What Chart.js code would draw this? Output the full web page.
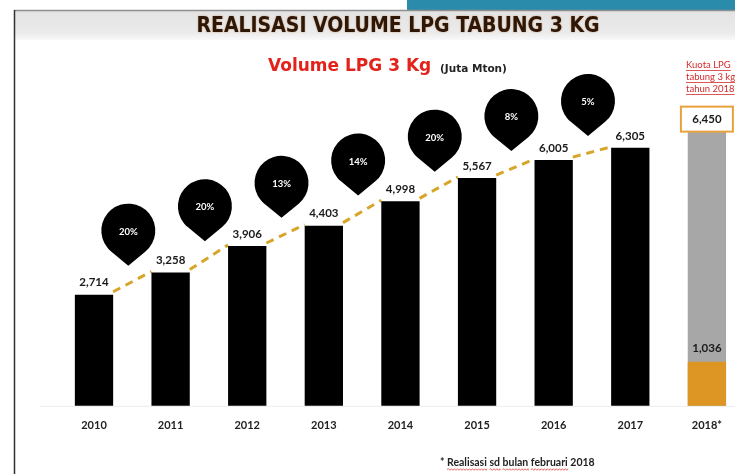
<!DOCTYPE html>
<html>
<head>
<meta charset="utf-8">
<script src="https://cdn.jsdelivr.net/npm/chart.js@4/dist/chart.umd.min.js"></script>
<style>
html,body{margin:0;padding:0;background:#fff;overflow:hidden;}
canvas{display:block;}
</style>
</head>
<body>
<canvas id="c" width="735" height="474"></canvas>
<script>
// ---- data ----
const categories = ['2010', '2011', '2012', '2013', '2014', '2015', '2016', '2017', '2018*'];
const volumes = [2714, 3258, 3906, 4403, 4998, 5567, 6005, 6305, null];
const realisasi2018 = [null, null, null, null, null, null, null, null, 1036];
const kuota2018 = [null, null, null, null, null, null, null, null, 6450];
const growthLabels = ['20%', '20%', '13%', '14%', '20%', '8%', '5%'];
const titleText = 'REALISASI VOLUME LPG TABUNG 3 KG';
const subtitleMain = 'Volume LPG 3 Kg';
const subtitleUnit = '(Juta Mton)';
const quotaNote = ['Kuota LPG', 'tabung 3 kg', 'tahun 2018'];
const footnoteStar = '* ';
const footnoteWords = ['Realisasi', 'sd', 'bulan', 'februari', '2018'];

const fmt = v => v.toLocaleString('en-US');
const LABEL_FONT = 'Lato, "Open Sans", sans-serif';

function wavy(ctx, x0, x1, y) {
  ctx.beginPath();
  let up = true;
  ctx.moveTo(x0, y);
  for (let x = x0; x < x1; x += 1.5) {
    ctx.lineTo(Math.min(x + 1.5, x1), y + (up ? -0.8 : 0.8));
    up = !up;
  }
  ctx.stroke();
}

const decorPlugin = {
  id: 'decor',
  beforeDraw(chart) {
    const ctx = chart.ctx;
    const W = chart.width, H = chart.height;
    ctx.save();
    ctx.fillStyle = '#ffffff';
    ctx.fillRect(0, 0, W, H);
    // teal header strip
    ctx.fillStyle = '#2b8bab';
    ctx.fillRect(407, 0, W - 407, 10);
    // title band
    const g = ctx.createLinearGradient(0, 11, 0, 40);
    g.addColorStop(0, '#e3e3e3');
    g.addColorStop(0.75, '#ebebeb');
    g.addColorStop(1, '#f9f9f9');
    ctx.fillStyle = g;
    ctx.fillRect(15, 11, W - 15, 29);
    // frame lines
    ctx.strokeStyle = '#8f8f8f';
    ctx.lineWidth = 1.5;
    ctx.beginPath(); ctx.moveTo(14, 10.5); ctx.lineTo(W, 10.5); ctx.stroke();
    ctx.strokeStyle = '#333333';
    ctx.beginPath(); ctx.moveTo(14.5, 10); ctx.lineTo(14.5, H); ctx.stroke();
    // title
    ctx.font = 'bold 21px "DejaVu Sans Condensed", "Liberation Sans Narrow", sans-serif';
    ctx.textAlign = 'center';
    ctx.textBaseline = 'middle';
    ctx.shadowColor = 'rgba(170,90,20,0.55)';
    ctx.shadowBlur = 2;
    ctx.fillStyle = '#2e1706';
    ctx.fillText(titleText, 398, 27);
    ctx.shadowBlur = 0;
    ctx.shadowColor = 'transparent';
    // subtitle
    ctx.textAlign = 'left';
    ctx.font = 'bold 17px "DejaVu Sans", sans-serif';
    ctx.fillStyle = '#e3231b';
    ctx.fillText(subtitleMain, 268, 67);
    ctx.font = 'bold 10.5px "DejaVu Sans", sans-serif';
    ctx.fillStyle = '#222222';
    ctx.fillText(subtitleUnit, 440, 69);
    // quota note
    ctx.font = '9.5px ' + LABEL_FONT;
    ctx.fillStyle = '#d42b2b';
    ctx.strokeStyle = '#d42b2b';
    ctx.lineWidth = 0.8;
    quotaNote.forEach((t, i) => {
      const y = 65 + i * 12;
      ctx.fillText(t, 686, y);
      const w = ctx.measureText(t).width;
      ctx.beginPath(); ctx.moveTo(686, y + 5.5); ctx.lineTo(686 + w, y + 5.5); ctx.stroke();
    });
    // footnote
    ctx.font = 'bold 10.5px ' + LABEL_FONT;
    ctx.fillStyle = '#222222';
    let x = 440;
    ctx.fillText(footnoteStar, x, 463);
    x += ctx.measureText(footnoteStar).width;
    footnoteWords.forEach((w, i) => {
      ctx.fillStyle = '#222222';
      ctx.fillText(w, x, 463);
      const ww = ctx.measureText(w).width;
      if (i < footnoteWords.length - 1) {
        ctx.strokeStyle = '#e04040';
        ctx.lineWidth = 0.8;
        wavy(ctx, x, x + ww, 469.5);
      }
      x += ww + ctx.measureText(' ').width;
    });
    // faint baseline
    ctx.strokeStyle = '#ececec';
    ctx.lineWidth = 1;
    const yb = chart.chartArea.bottom + 0.5;
    ctx.beginPath(); ctx.moveTo(40, yb); ctx.lineTo(W, yb); ctx.stroke();
    ctx.restore();
  },
  beforeDatasetsDraw(chart) {
    const ctx = chart.ctx;
    const bars = chart.getDatasetMeta(0).data;
    ctx.save();
    ctx.strokeStyle = '#d6a52a';
    ctx.lineWidth = 3;
    ctx.setLineDash([8, 6]);
    for (let i = 0; i < growthLabels.length; i++) {
      const a = bars[i], b = bars[i + 1];
      ctx.beginPath();
      ctx.moveTo(a.x + a.width / 2, a.y - 3);
      ctx.lineTo(b.x - b.width / 2, b.y - 1);
      ctx.stroke();
    }
    ctx.restore();
  },
  afterDatasetsDraw(chart) {
    const ctx = chart.ctx;
    const bars = chart.getDatasetMeta(0).data;
    const orange = chart.getDatasetMeta(1).data;
    const gray = chart.getDatasetMeta(2).data;
    ctx.save();
    // value labels
    ctx.font = 'bold 11.5px ' + LABEL_FONT;
    ctx.fillStyle = '#1a1a1a';
    ctx.textAlign = 'center';
    ctx.textBaseline = 'middle';
    volumes.forEach((v, i) => {
      if (v == null) return;
      ctx.fillText(fmt(v), bars[i].x, bars[i].y - 12);
    });
    realisasi2018.forEach((v, i) => {
      if (v == null) return;
      ctx.fillText(fmt(v), orange[i].x, orange[i].y - 13);
    });
    // quota box
    kuota2018.forEach((v, i) => {
      if (v == null) return;
      const el = gray[i];
      const bw = 52, bh = 25;
      const bx = el.x - bw / 2, by = el.y - bh;
      ctx.fillStyle = '#ffffff';
      ctx.fillRect(bx, by, bw, bh);
      ctx.strokeStyle = '#e9a23b';
      ctx.lineWidth = 2;
      ctx.strokeRect(bx, by, bw, bh);
      ctx.fillStyle = '#1a1a1a';
      ctx.font = 'bold 11.5px ' + LABEL_FONT;
      ctx.fillText(fmt(v), el.x, by + bh / 2);
    });
    // growth balloons
    const r = 27, d = 35;
    const th = Math.acos(r / d);
    for (let i = 0; i < growthLabels.length; i++) {
      const a = bars[i], b = bars[i + 1];
      const cx = (a.x + b.x) / 2 - 4;
      const tipY = (a.y + b.y) / 2 - 18;
      const cy = tipY - d;
      ctx.fillStyle = '#000000';
      ctx.beginPath();
      ctx.moveTo(cx, tipY);
      ctx.lineTo(cx + r * Math.cos(Math.PI / 2 - th), cy + r * Math.sin(Math.PI / 2 - th));
      ctx.arc(cx, cy, r, Math.PI / 2 - th, Math.PI / 2 + th, true);
      ctx.closePath();
      ctx.fill();
      ctx.fillStyle = '#ffffff';
      ctx.font = 'bold 9.5px ' + LABEL_FONT;
      ctx.fillText(growthLabels[i], cx, cy + 1);
    }
    ctx.restore();
  }
};

new Chart(document.getElementById('c'), {
  type: 'bar',
  data: {
    labels: categories,
    datasets: [
      { label: 'Volume', data: volumes, backgroundColor: '#000000', yAxisID: 'y', clip: false },
      { label: 'Realisasi 2018', data: realisasi2018, backgroundColor: '#dd9524', yAxisID: 'y2', clip: false },
      { label: 'Kuota 2018', data: kuota2018, backgroundColor: '#a7a7a7', yAxisID: 'y2', clip: false }
    ]
  },
  options: {
    responsive: false,
    animation: false,
    devicePixelRatio: 1,
    layout: { padding: { left: 94, right: 25, top: 78.5, bottom: 29 } },
    datasets: { bar: { grouped: false, categoryPercentage: 1, barPercentage: 0.5 } },
    plugins: { legend: { display: false }, tooltip: { enabled: false }, title: { display: false } },
    scales: {
      x: {
        offset: false,
        grid: { display: false, drawTicks: false },
        border: { display: false },
        ticks: { padding: 13, color: '#222222', maxRotation: 0, autoSkip: false,
                 font: { family: LABEL_FONT, weight: 'bold', size: 11 } }
      },
      y: { display: false, min: 0, max: 8000 },
      y2: { display: false, min: 0, max: 7700 }
    }
  },
  plugins: [decorPlugin]
});
</script>
</body>
</html>
